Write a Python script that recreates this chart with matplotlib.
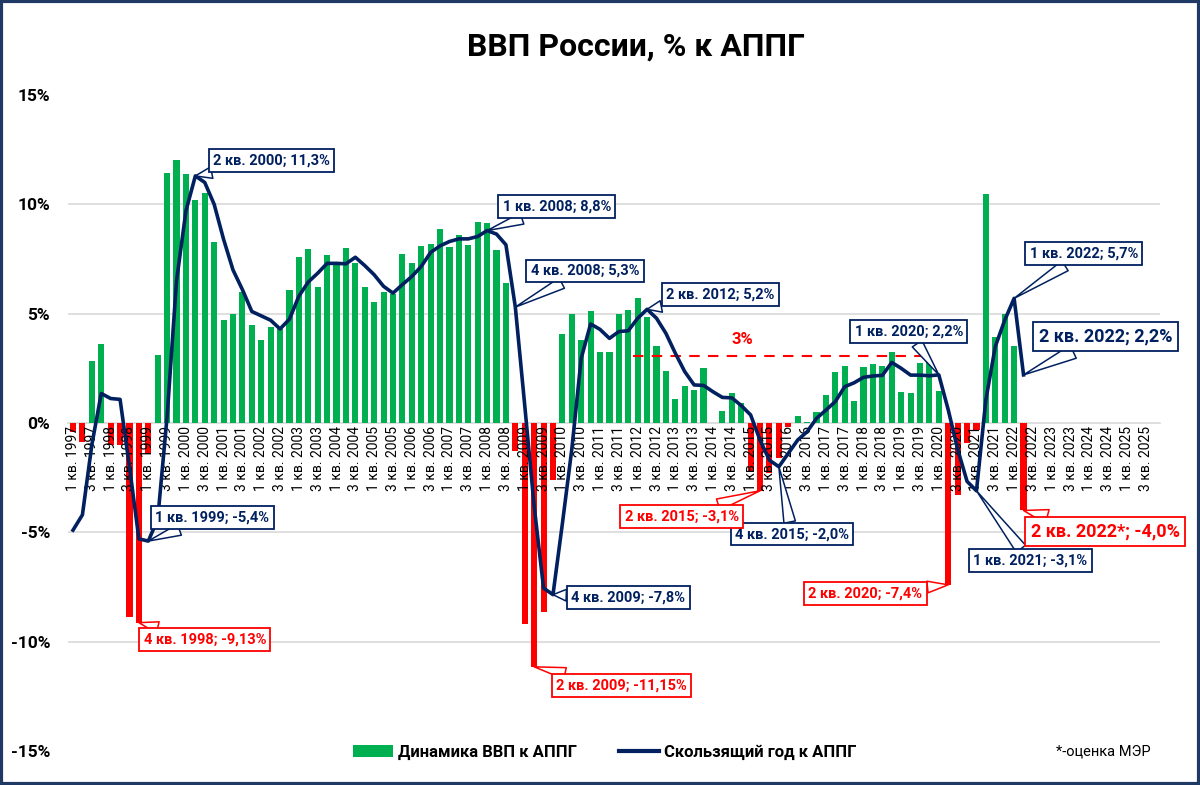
import numpy as np
import matplotlib
matplotlib.use("Agg")
import matplotlib.pyplot as plt
from matplotlib.patches import Patch, Rectangle
from matplotlib.lines import Line2D

plt.rcParams['font.family'] = ['Roboto', 'DejaVu Sans']

# --- данные: рост ВВП к АППГ по кварталам, 1 кв. 1997 - 2 кв. 2022 ---
years = list(range(1997, 2026))
quarter_labels = ['%d кв. %d' % (q, y) for y in years for q in (1, 2, 3, 4)]

gdp_yoy = [
    -0.4, -0.85, 2.85, 3.6,      # 1997
    -1.0, -1.0, -8.85, -9.13,    # 1998
    -1.4, 3.1, 11.45, 12.05,     # 1999
    11.4, 10.2, 10.5, 8.3,       # 2000
    4.7, 5.0, 6.0, 4.5,          # 2001
    3.8, 4.4, 4.3, 6.1,          # 2002
    7.6, 7.95, 6.2, 7.7,         # 2003
    7.3, 8.0, 7.3, 6.2,          # 2004
    5.55, 6.0, 5.9, 7.75,        # 2005
    7.3, 8.1, 8.2, 8.85,         # 2006
    8.05, 8.6, 8.15, 9.2,        # 2007
    9.15, 7.9, 6.4, -1.3,        # 2008
    -9.2, -11.15, -8.65, -2.6,   # 2009
    4.05, 5.0, 3.8, 5.1,         # 2010
    3.25, 3.25, 5.0, 5.15,       # 2011
    5.7, 4.85, 3.5, 2.4,         # 2012
    1.1, 1.7, 1.5, 2.5,          # 2013
    0.0, 0.55, 1.37, 0.9,        # 2014
    -2.2, -3.1, -2.3, -1.6,      # 2015
    -0.2, 0.3, 0.06, 0.5,        # 2016
    1.3, 2.35, 2.6, 1.0,         # 2017
    2.55, 2.7, 2.6, 3.25,        # 2018
    1.4, 1.35, 2.75, 2.9,        # 2019
    1.45, -7.4, -3.3, -0.9,      # 2020
    -0.3, 10.45, 3.95, 5.0,      # 2021
    3.5, -4.0,                   # 2022
]

rolling_year = [
    -4.9, -4.2, -1.0, 1.35,
    1.12, 1.08, -2.0, -5.3,
    -5.4, -4.4, 0.3, 6.5,
    9.7, 11.3, 11.0, 10.0,
    8.4, 7.0, 6.1, 5.1,
    4.9, 4.7, 4.3, 4.75,
    5.8, 6.45, 6.85, 7.3,
    7.3, 7.28, 7.58, 7.2,
    6.78, 6.25, 5.94, 6.33,
    6.7, 7.16, 7.8, 8.1,
    8.3, 8.42, 8.42, 8.53,
    8.8, 8.64, 8.15, 5.3,
    0.8, -3.8, -7.55, -7.85,
    -4.6, -1.2, 2.96, 4.53,
    4.28, 3.87, 4.18, 4.22,
    4.79, 5.2, 4.79, 4.1,
    3.19, 2.35, 1.74, 1.72,
    1.43, 1.17, 1.15, 0.8,
    0.37, -0.78, -1.7, -2.0,
    -1.39, -0.78, -0.4, 0.21,
    0.59, 0.98, 1.66, 1.84,
    2.09, 2.15, 2.18, 2.77,
    2.5, 2.19, 2.19, 2.16,
    2.2, 0.6, -1.2, -2.67,
    -3.1, 1.07, 3.5, 4.7,
    5.7, 2.2,
]

# подписи-выноски: (текст, индекс квартала, значение, позиция текста x, y, ряд, крупно)
callouts = [
    ('2 кв. 2000; 11,3%', 13, 11.3, 21.1, 12.0, 'line', False),
    ('1 кв. 2008; 8,8%', 44, 8.8, 51.4, 9.9, 'line', False),
    ('4 кв. 2008; 5,3%', 47, 5.3, 54.4, 6.95, 'line', False),
    ('2 кв. 2012; 5,2%', 61, 5.2, 68.8, 5.87, 'line', False),
    ('1 кв. 2020; 2,2%', 92, 2.2, 88.8, 4.18, 'line', False),
    ('1 кв. 2022; 5,7%', 100, 5.7, 107.4, 7.74, 'line', False),
    ('2 кв. 2022; 2,2%', 101, 2.2, 109.7, 3.95, 'line', True),
    ('1 кв. 1999; -5,4%', 8, -5.4, 14.8, -4.33, 'line', False),
    ('4 кв. 2009; -7,8%', 51, -7.85, 59.0, -7.99, 'line', False),
    ('4 кв. 2015; -2,0%', 75, -2.0, 76.4, -5.08, 'line', False),
    ('1 кв. 2021; -3,1%', 96, -3.1, 101.7, -6.3, 'line', False),
    ('4 кв. 1998; -9,13%', 7, -9.13, 14.0, -9.9, 'bar', False),
    ('2 кв. 2009; -11,15%', 49, -11.15, 58.3, -12.0, 'bar', False),
    ('2 кв. 2015; -3,1%', 73, -3.1, 64.7, -4.28, 'bar', False),
    ('2 кв. 2020; -7,4%', 93, -7.4, 84.2, -7.8, 'bar', False),
    ('2 кв. 2022*; -4,0%', 101, -4.0, 109.7, -4.97, 'bar', True),
]

GREEN = '#00B050'
RED = '#FF0000'
NAVY = '#002060'
GRID = '#D9D9D9'

fig = plt.figure(figsize=(12, 7.85), dpi=100)
ax = fig.add_axes([68.3 / 1200, 1 - 751 / 785, (1160 - 68.3) / 1200, (751 - 95) / 785])

x = np.arange(len(gdp_yoy))
colors = [GREEN if v >= 0 else RED for v in gdp_yoy]
ax.bar(x, gdp_yoy, width=0.65, color=colors, zorder=1)
ax.plot(np.arange(len(rolling_year)), rolling_year, color=NAVY, lw=2.6, zorder=3,
        solid_joinstyle='round')

for g in (-10, -5, 5, 10):
    ax.axhline(g, color=GRID, lw=1.2, zorder=0)

# линия 3%
ax.plot([59.5, 91], [3.05, 3.05], color=RED, lw=1.5, dashes=(5, 4), zorder=2)
ax.text(71.1, 3.8, '3%', color=RED, fontsize=12, fontweight='bold', ha='center', va='center')

# оси: нижняя ось проходит через ноль (ставим до подписей — set_position сбрасывает тики)
for s in ('left', 'top', 'right'):
    ax.spines[s].set_visible(False)
ax.spines['bottom'].set_position(('data', 0))
ax.spines['bottom'].set_color(GRID)
ax.spines['bottom'].set_linewidth(1.2)
ax.spines['bottom'].set_zorder(0.5)

ax.set_xlim(-0.5, len(quarter_labels) - 0.5)
ax.set_ylim(-15, 15)

ax.set_yticks(range(-15, 16, 5))
ax.set_yticklabels(['%d%%' % v for v in range(-15, 16, 5)], fontsize=12.5, fontweight='bold')
ax.tick_params(axis='y', length=0, pad=13)

tick_pos = np.arange(0, len(quarter_labels), 2)
ax.set_xticks(tick_pos)
ax.set_xticklabels([quarter_labels[i] for i in tick_pos], rotation=90, fontsize=10)
ax.tick_params(axis='x', length=0, pad=2)
ax.xaxis.set_zorder(2.5)   # подписи поверх столбцов, но под линией

for text, i, val, tx, ty, series, big in callouts:
    col = NAVY if series == 'line' else RED
    fs = 13 if big else 10.5
    ax.annotate(text, xy=(i, val), xytext=(tx, ty), textcoords='data',
                ha='center', va='center', fontsize=fs, fontweight='bold', color=col,
                bbox=dict(boxstyle='square,pad=0.3', fc='white', ec=col, lw=1.3),
                arrowprops=dict(arrowstyle='wedge,tail_width=0.8,shrink_factor=0.5',
                                fc='white', ec=col, lw=1.1, shrinkA=0, shrinkB=0),
                zorder=6)

fig.text(0.53, 1 - 47 / 785, 'ВВП России, % к АППГ', ha='center', va='center',
         fontsize=23, fontweight='bold')

handles = [Patch(facecolor=GREEN, edgecolor='none'),
           Line2D([0], [0], color=NAVY, lw=3)]
fig.legend(handles, ['Динамика ВВП к АППГ', 'Скользящий год к АППГ'],
           loc='center', bbox_to_anchor=(0.504, 1 - 752 / 785), ncol=2, frameon=False,
           prop={'weight': 'bold', 'size': 12}, handlelength=2.4, columnspacing=2.5,
           handletextpad=0.3)
fig.text(1103 / 1200, 1 - 752 / 785, '*-оценка МЭР', ha='center', va='center', fontsize=10.5)

fig.patches.append(Rectangle((0.001, 0.001), 0.998, 0.998, transform=fig.transFigure,
                             fill=False, ec='#1F3864', lw=3))

fig.savefig('out.png', dpi=100)
